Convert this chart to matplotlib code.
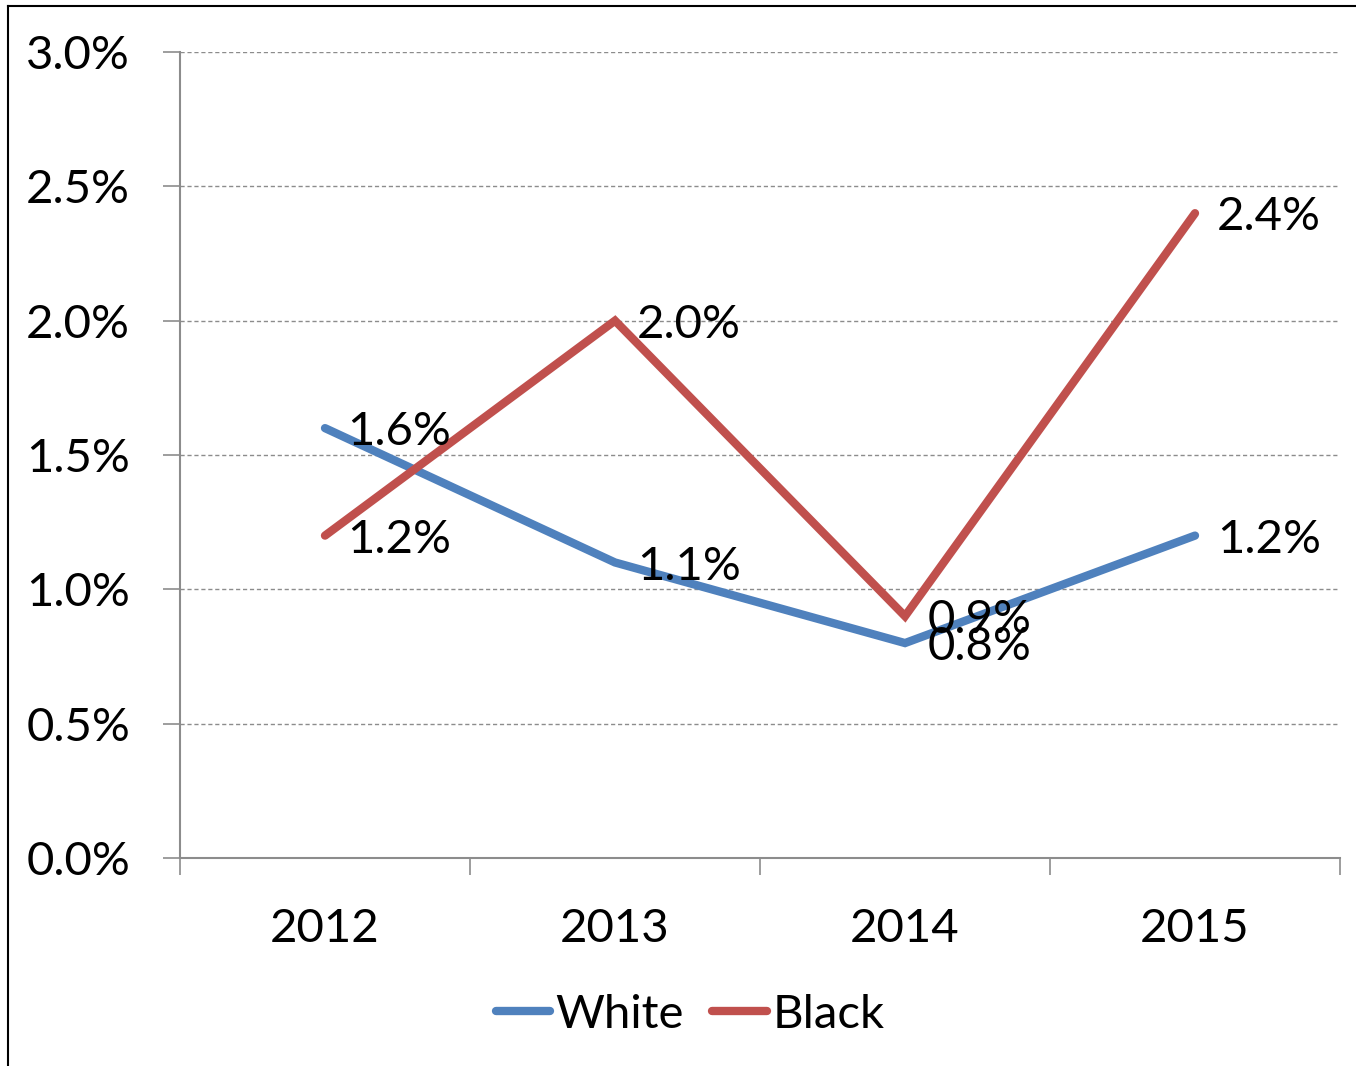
import matplotlib.pyplot as plt
from matplotlib.lines import Line2D

years = ["2012", "2013", "2014", "2015"]
white = [1.6, 1.1, 0.8, 1.2]
black = [1.2, 2.0, 0.9, 2.4]
y_ticks = [0.0, 0.5, 1.0, 1.5, 2.0, 2.5, 3.0]

BLUE = "#4F81BD"
RED = "#C0504D"
GRID = "#8C8C8C"
FS = 34

plt.rcParams["font.family"] = ["Lato", "DejaVu Sans"]

W, H = 1356, 1066
fig = plt.figure(figsize=(W / 100, H / 100), dpi=100)
ax = fig.add_axes([180 / W, 1 - 858 / H, (1340 - 180) / W, (858 - 52) / H])

x = list(range(len(years)))
ax.plot(x, white, color=BLUE, lw=6, solid_capstyle="round", solid_joinstyle="miter", zorder=3)
ax.plot(x, black, color=RED, lw=6, solid_capstyle="round", solid_joinstyle="miter", zorder=3)

for xi, v in zip(x, white):
    ax.annotate(f"{v:.1f}%", (xi, v), xytext=(16, -3), textcoords="offset points",
                ha="left", va="center", fontsize=FS, zorder=4)
for xi, v in zip(x, black):
    ax.annotate(f"{v:.1f}%", (xi, v), xytext=(16, -3), textcoords="offset points",
                ha="left", va="center", fontsize=FS, zorder=4)

ax.set_xlim(-0.5, 3.5)
ax.set_ylim(0, 3.0)
ax.set_yticks(y_ticks)
ax.set_yticklabels([f"{t:.1f}%" for t in y_ticks])
ax.set_xticks([i - 0.5 for i in range(len(years) + 1)])
ax.set_xticklabels([])
ax.set_xticks(x, minor=True)
ax.set_xticklabels(years, minor=True)

ax.tick_params(axis="y", length=12, width=1.2, color=GRID, labelsize=FS, pad=24)
ax.tick_params(axis="x", which="major", length=12, width=1.2, color=GRID, direction="out")
ax.tick_params(axis="x", which="minor", length=0, labelsize=FS, pad=36)

for t in y_ticks[1:]:
    ax.axhline(t, color=GRID, lw=1, ls=(0, (3, 2)), zorder=1)

for s in ["top", "right"]:
    ax.spines[s].set_visible(False)
ax.spines["left"].set_color(GRID)
ax.spines["bottom"].set_color(GRID)
ax.spines["left"].set_linewidth(1.5)
ax.spines["bottom"].set_linewidth(1.5)

handles = [Line2D([0], [0], color=BLUE, lw=6, solid_capstyle="round"),
           Line2D([0], [0], color=RED, lw=6, solid_capstyle="round")]
fig.legend(handles, ["White", "Black"], loc="center", bbox_to_anchor=(690 / W, 1 - 1015 / H),
           ncol=2, frameon=False, fontsize=FS, handlelength=1.15, handletextpad=0.12,
           columnspacing=0.6)

# chart frame (top and left edges visible)
fig.add_artist(Line2D([8 / W, 8 / W], [0, 1 - 6 / H], color="black", lw=1.5, transform=fig.transFigure))
fig.add_artist(Line2D([8 / W, 1], [1 - 6 / H, 1 - 6 / H], color="black", lw=1.5, transform=fig.transFigure))

fig.savefig("out.png", dpi=100)
